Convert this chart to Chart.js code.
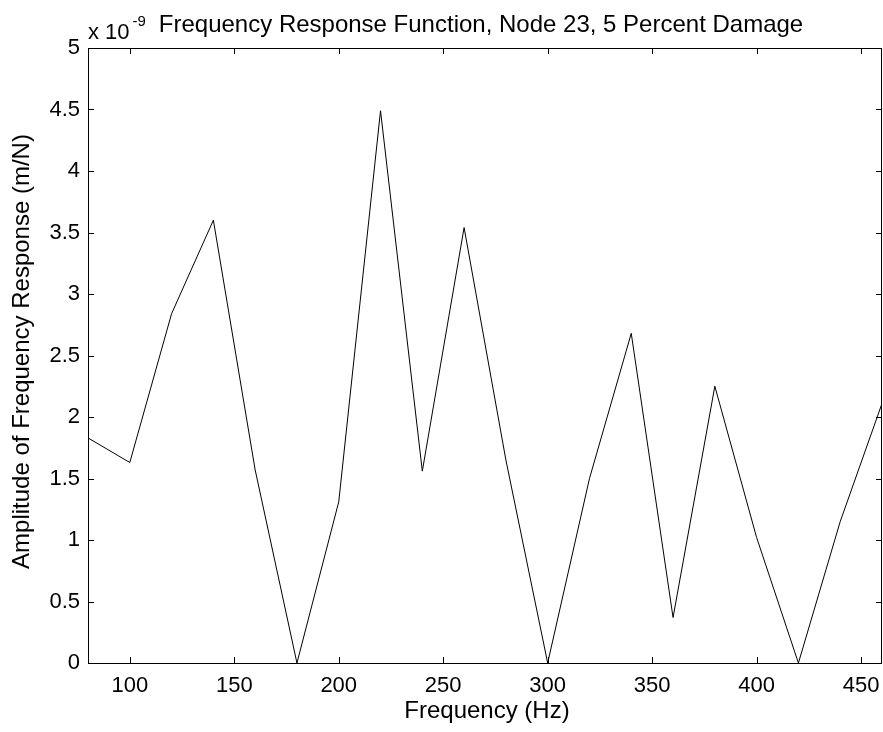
<!DOCTYPE html>
<html lang="en">

<head>
    <meta charset="UTF-8">
    <title>Frequency Response Function</title>
    <script src="https://cdn.jsdelivr.net/npm/chart.js"></script>
    <style>
        html, body {
            margin: 0;
            padding: 0;
            background: #ffffff;
        }

        .grafico {
            width: 883px;
            height: 732px;
        }
    </style>
</head>

<body>
    <div class="grafico">
        <canvas id="myChartCanvas" width="883" height="732"></canvas>
    </div>
</body>

</html>

<script>
    // dados (amplitude em unidades de 1e-9 m/N)
    const frequencias = [80, 100, 120, 140, 160, 180, 200, 220, 240, 260, 280, 300, 320, 340, 360, 380, 400, 420, 440, 460];
    const amplitudes = [1.83, 1.63, 2.84, 3.60, 1.57, 0.0, 1.31, 4.49, 1.56, 3.54, 1.65, 0.0, 1.50, 2.68, 0.37, 2.25, 1.02, 0.0, 1.15, 2.11];

    const xTicks = [100, 150, 200, 250, 300, 350, 400, 450];
    const yTicks = [0, 0.5, 1, 1.5, 2, 2.5, 3, 3.5, 4, 4.5, 5];

    const titulo = 'Frequency Response Function, Node 23, 5 Percent Damage';
    const tituloX = 'Frequency (Hz)';
    const tituloY = 'Amplitude of Frequency Response (m/N)';
    const expoente = '-9';

    const fonte = '"Liberation Sans", Arial, Helvetica, sans-serif';

    // desenha a caixa, os ticks para dentro e os textos no estilo matlab
    const estiloMatlab = {
        id: 'estiloMatlab',
        afterDraw(chart) {
            const ctx = chart.ctx;
            const area = chart.chartArea;
            const x = chart.scales.x;
            const y = chart.scales.y;
            const tam = 6;

            ctx.save();
            ctx.strokeStyle = '#000';
            ctx.lineWidth = 1;

            ctx.beginPath();
            xTicks.forEach(function (v) {
                const px = Math.round(x.getPixelForValue(v)) + 0.5;
                ctx.moveTo(px, area.bottom);
                ctx.lineTo(px, area.bottom - tam);
                ctx.moveTo(px, area.top);
                ctx.lineTo(px, area.top + tam);
            });
            yTicks.forEach(function (v) {
                const py = Math.round(y.getPixelForValue(v)) + 0.5;
                ctx.moveTo(area.left, py);
                ctx.lineTo(area.left + tam, py);
                ctx.moveTo(area.right, py);
                ctx.lineTo(area.right - tam, py);
            });
            ctx.stroke();

            ctx.strokeRect(Math.round(area.left) + 0.5, Math.round(area.top) + 0.5,
                Math.round(area.right - area.left) - 1, Math.round(area.bottom - area.top));

            ctx.fillStyle = '#000';
            ctx.textBaseline = 'middle';

            // titulo principal, centrado na area do grafico
            ctx.font = '24px ' + fonte;
            ctx.textAlign = 'center';
            ctx.fillText(titulo, (area.left + area.right) / 2 - 4, 25);

            // titulo do eixo x
            ctx.fillText(tituloX, (area.left + area.right) / 2 + 2, 711);

            // titulo do eixo y
            ctx.save();
            ctx.translate(22, (area.top + area.bottom) / 2 - 4);
            ctx.rotate(-Math.PI / 2);
            ctx.fillText(tituloY, 0, 0);
            ctx.restore();

            // multiplicador x 10^-9
            ctx.textAlign = 'left';
            ctx.font = '22px ' + fonte;
            ctx.fillText('x 10', area.left, 33);
            const w = ctx.measureText('x 10').width;
            ctx.font = '15px ' + fonte;
            ctx.fillText(expoente, area.left + w + 3, 22);

            ctx.restore();
        }
    };

    const dados = {
        datasets: [{
            label: 'FRF',
            data: frequencias.map(function (f, i) {
                return { x: f, y: amplitudes[i] };
            }),
            borderColor: '#000',
            borderWidth: 1,
            pointRadius: 0,
            tension: 0,
            fill: false
        }]
    };

    const config = {
        type: 'line',
        data: dados,
        plugins: [estiloMatlab],
        options: {
            responsive: false,
            animation: false,
            layout: {
                padding: { top: 48, right: 1, left: 0, bottom: 0 }
            },
            plugins: {
                legend: { display: false },
                tooltip: { enabled: false },
                title: { display: false }
            },
            scales: {
                x: {
                    type: 'linear',
                    min: 80,
                    max: 460,
                    afterBuildTicks: function (scale) {
                        scale.ticks = xTicks.map(function (v) { return { value: v }; });
                    },
                    afterFit: function (scale) {
                        scale.height = 69;
                        scale.paddingLeft = 0;
                        scale.paddingRight = 0;
                    },
                    grid: { display: false, drawTicks: false },
                    border: { display: false },
                    ticks: {
                        color: '#000',
                        padding: 10,
                        maxRotation: 0,
                        autoSkip: false,
                        font: { family: fonte, size: 22 },
                        callback: function (v) { return String(v); }
                    }
                },
                y: {
                    type: 'linear',
                    min: 0,
                    max: 5,
                    afterBuildTicks: function (scale) {
                        scale.ticks = yTicks.map(function (v) { return { value: v }; });
                    },
                    afterFit: function (scale) {
                        scale.width = 88;
                        scale.paddingTop = 0;
                        scale.paddingBottom = 0;
                    },
                    grid: { display: false, drawTicks: false },
                    border: { display: false },
                    ticks: {
                        color: '#000',
                        padding: 8,
                        autoSkip: false,
                        font: { family: fonte, size: 22 },
                        callback: function (v) { return String(v); }
                    }
                }
            }
        }
    };

    let myChart = new Chart(
        document.getElementById('myChartCanvas'),
        config
    );
</script>
